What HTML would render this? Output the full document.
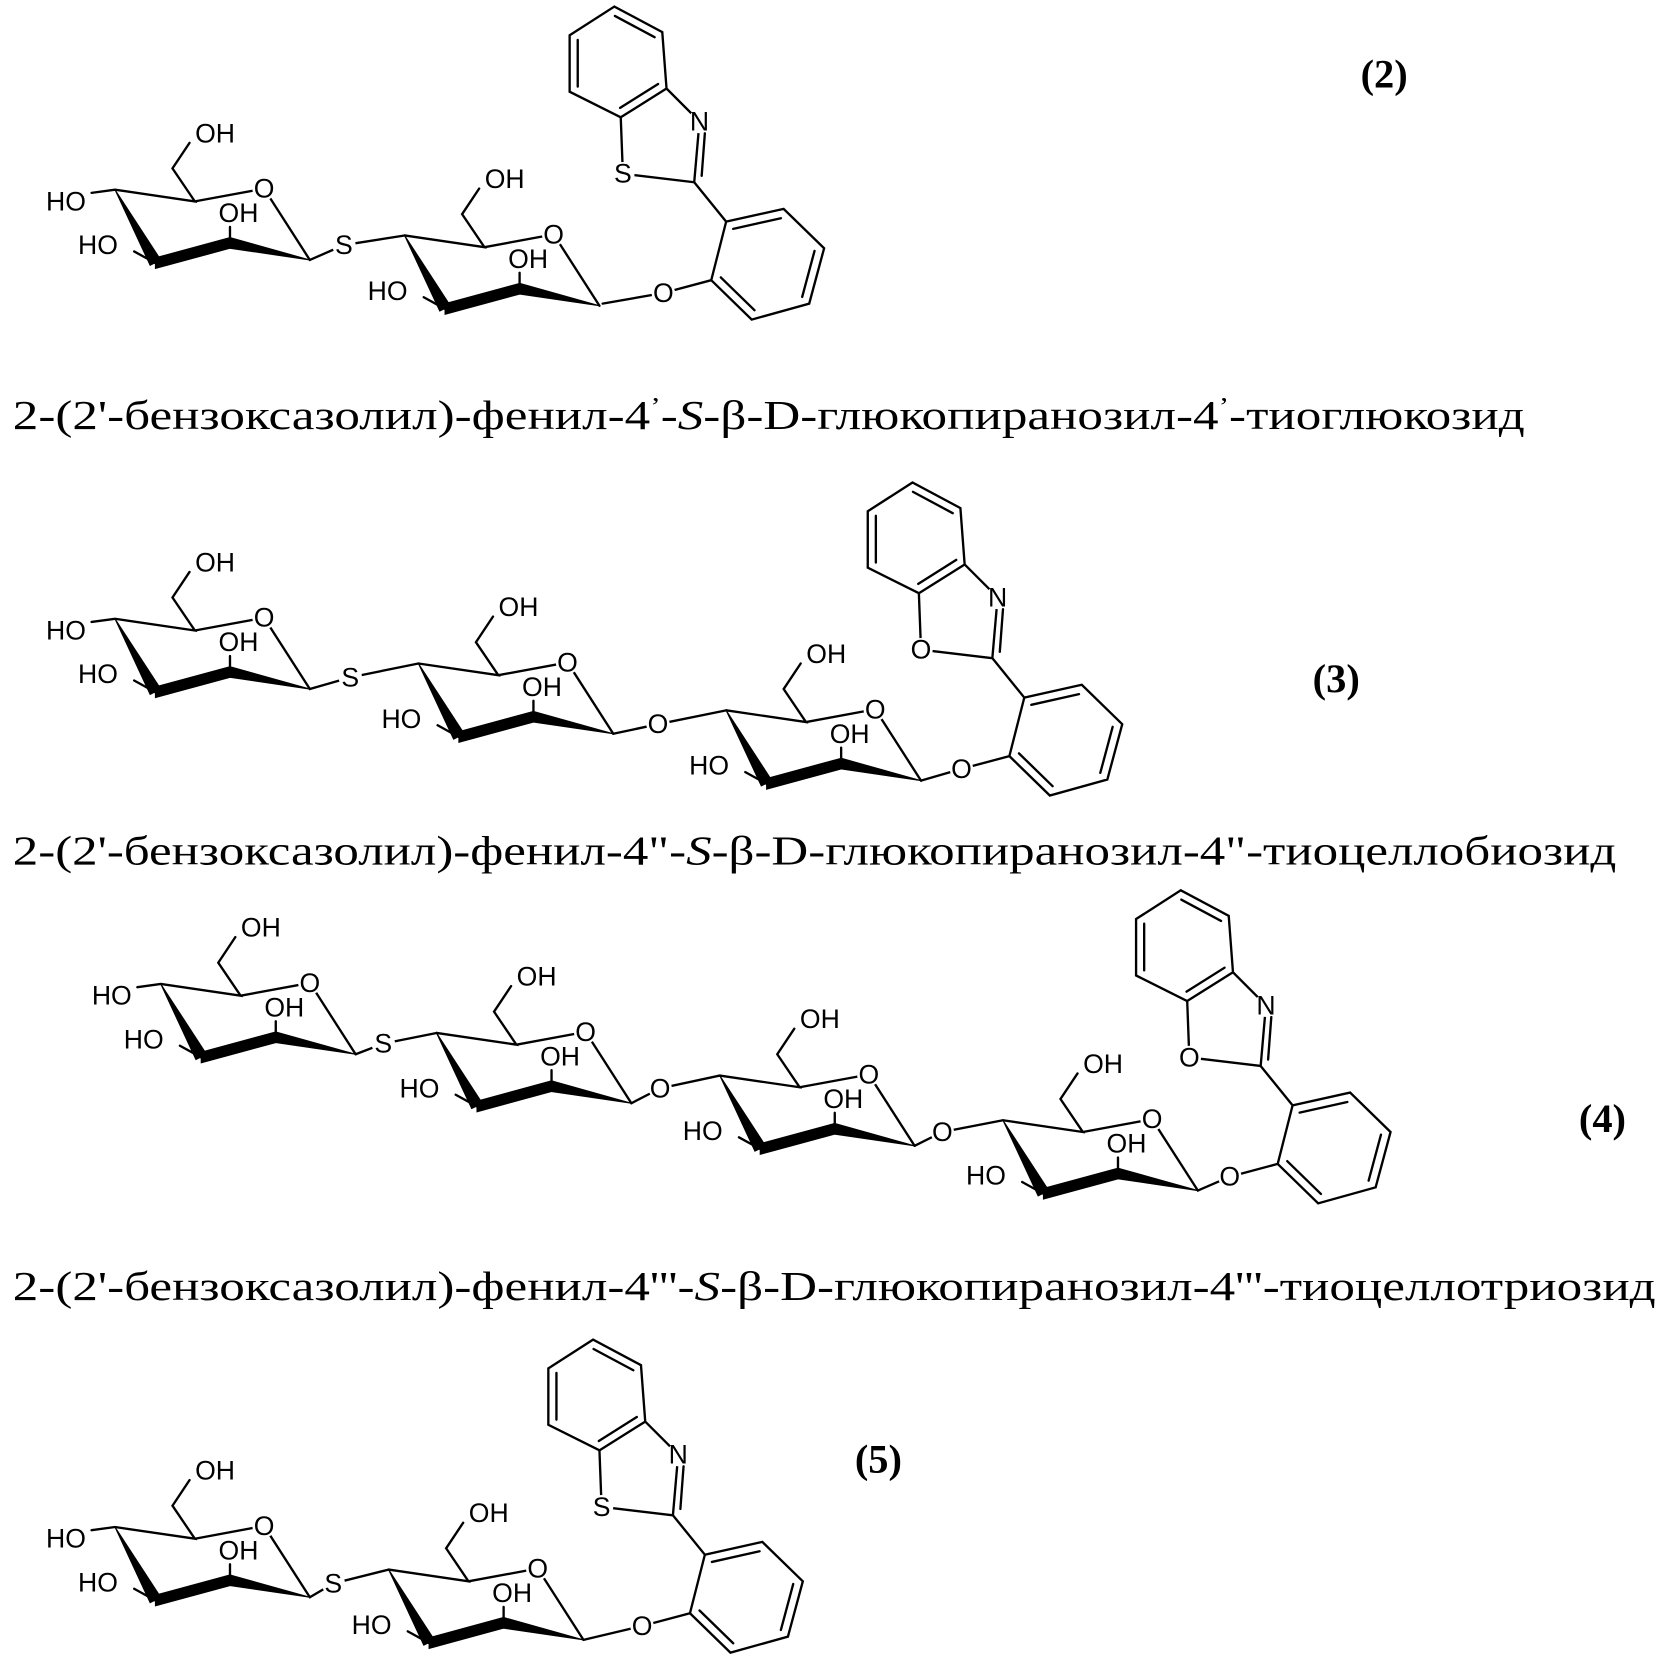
<!DOCTYPE html>
<html><head><meta charset="utf-8"><style>
html,body{margin:0;padding:0;background:#fff;}
svg{display:block;}
.b line,.b path{stroke:#000;stroke-width:2.2;fill:none;stroke-linecap:round;}
.b polygon{fill:#000;stroke:#000;stroke-width:1;}
.b circle{fill:#fff;stroke:none;}
.a{font-family:"Liberation Sans",Arial,sans-serif;font-size:25px;text-anchor:middle;dominant-baseline:central;fill:#000;stroke:none;}
.c{font-family:"Liberation Serif","Noto Serif CJK SC",serif;font-size:39px;fill:#000;}
.n{font-family:"Liberation Serif",serif;font-size:38px;font-weight:bold;text-anchor:middle;fill:#000;}
</style></head><body>
<svg width="1661" height="1656" viewBox="0 0 1560 1555" xmlns="http://www.w3.org/2000/svg">
<g class="b">
<!-- ===== Molecule 2 ===== -->
<g transform="translate(108,178)">
<path d="M-22 3L0 0L75 11L54 -20L70 -44 M75 11L140 -1L183 66 M108 50L108 35 M38 69L18 58"/>
<polygon points="183,66 108,45 108,55"/><polygon points="108,45 108,55 38,74 38,64"/><polygon points="0,0 33,71 43,66"/>
<circle cx="140" cy="-1" r="11"/>
<text class="a" x="-46" y="11">HO</text><text class="a" x="94" y="-53">OH</text><text class="a" x="140" y="-1">O</text><text class="a" x="116" y="22">OH</text><text class="a" x="-16" y="52">HO</text>
</g>
<path d="M291 244L323 230L380 221"/><circle cx="323" cy="230" r="11"/><text class="a" x="323" y="230">S</text>
<g transform="translate(380,221)">
<path d="M0 0L75 11L54 -20L70 -44 M75 11L140 -1L183 66 M108 50L108 35 M38 69L18 58"/>
<polygon points="183,66 108,45 108,55"/><polygon points="108,45 108,55 38,74 38,64"/><polygon points="0,0 33,71 43,66"/>
<circle cx="140" cy="-1" r="11"/>
<text class="a" x="94" y="-53">OH</text><text class="a" x="140" y="-1">O</text><text class="a" x="116" y="22">OH</text><text class="a" x="-16" y="52">HO</text>
</g>
<g transform="translate(623,275)">
<path d="M-57 10L0 0L45 -12 M45 -12L59 -67L113 -79L151 -42L137 10L83 25Z M65.6 -60.2L110.4 -70.2 M142 -39.5L130.4 3.7 M85.6 16.2L54 -14.6 M59 -67L29 -104L33 -150 M36 -110L39 -150 M34 -161L3 -192L-40 -165L-38 -112L29 -104 M3 -192L-1 -245L-46 -269L-88 -242L-88 -189L-40 -165 M-80.4 -193.8L-80.4 -237.7 M-45.5 -260.2L-8.2 -240.2 M-4.9 -196.3L-40.6 -173.8"/>
<circle cx="0" cy="0" r="11"/><circle cx="34" cy="-161" r="11"/><circle cx="-38" cy="-112" r="11"/>
<text class="a" x="0" y="0">O</text><text class="a" x="34" y="-161">N</text><text class="a" x="-38" y="-112">S</text>
</g>
<!-- ===== Molecule 3 ===== -->
<g transform="translate(108,581)">
<path d="M-22 3L0 0L75 11L54 -20L70 -44 M75 11L140 -1L183 66 M108 50L108 35 M38 69L18 58"/>
<polygon points="183,66 108,45 108,55"/><polygon points="108,45 108,55 38,74 38,64"/><polygon points="0,0 33,71 43,66"/>
<circle cx="140" cy="-1" r="11"/>
<text class="a" x="-46" y="11">HO</text><text class="a" x="94" y="-53">OH</text><text class="a" x="140" y="-1">O</text><text class="a" x="116" y="22">OH</text><text class="a" x="-16" y="52">HO</text>
</g>
<path d="M291 647L329 636L393 623"/><circle cx="329" cy="636" r="11"/><text class="a" x="329" y="636">S</text>
<g transform="translate(393,623)">
<path d="M0 0L75 11L54 -20L70 -44 M75 11L140 -1L183 66 M108 50L108 35 M38 69L18 58"/>
<polygon points="183,66 108,45 108,55"/><polygon points="108,45 108,55 38,74 38,64"/><polygon points="0,0 33,71 43,66"/>
<circle cx="140" cy="-1" r="11"/>
<text class="a" x="94" y="-53">OH</text><text class="a" x="140" y="-1">O</text><text class="a" x="116" y="22">OH</text><text class="a" x="-16" y="52">HO</text>
</g>
<path d="M576 689L618 680L682 667"/><circle cx="618" cy="680" r="11"/><text class="a" x="618" y="680">O</text>
<g transform="translate(682,667)">
<path d="M0 0L75 11L54 -20L70 -44 M75 11L140 -1L183 66 M108 50L108 35 M38 69L18 58"/>
<polygon points="183,66 108,45 108,55"/><polygon points="108,45 108,55 38,74 38,64"/><polygon points="0,0 33,71 43,66"/>
<circle cx="140" cy="-1" r="11"/>
<text class="a" x="94" y="-53">OH</text><text class="a" x="140" y="-1">O</text><text class="a" x="116" y="22">OH</text><text class="a" x="-16" y="52">HO</text>
</g>
<g transform="translate(903,722)">
<path d="M-38 11L0 0L45 -12 M45 -12L59 -67L113 -79L151 -42L137 10L83 25Z M65.6 -60.2L110.4 -70.2 M142 -39.5L130.4 3.7 M85.6 16.2L54 -14.6 M59 -67L29 -104L33 -150 M36 -110L39 -150 M34 -161L3 -192L-40 -165L-38 -112L29 -104 M3 -192L-1 -245L-46 -269L-88 -242L-88 -189L-40 -165 M-80.4 -193.8L-80.4 -237.7 M-45.5 -260.2L-8.2 -240.2 M-4.9 -196.3L-40.6 -173.8"/>
<circle cx="0" cy="0" r="11"/><circle cx="34" cy="-161" r="11"/><circle cx="-38" cy="-112" r="11"/>
<text class="a" x="0" y="0">O</text><text class="a" x="34" y="-161">N</text><text class="a" x="-38" y="-112">O</text>
</g>
<!-- ===== Molecule 4 ===== -->
<g transform="translate(151,924)">
<path d="M-22 3L0 0L75 11L54 -20L70 -44 M75 11L140 -1L183 66 M108 50L108 35 M38 69L18 58"/>
<polygon points="183,66 108,45 108,55"/><polygon points="108,45 108,55 38,74 38,64"/><polygon points="0,0 33,71 43,66"/>
<circle cx="140" cy="-1" r="11"/>
<text class="a" x="-46" y="11">HO</text><text class="a" x="94" y="-53">OH</text><text class="a" x="140" y="-1">O</text><text class="a" x="116" y="22">OH</text><text class="a" x="-16" y="52">HO</text>
</g>
<path d="M334 990L360 980L410 970"/><circle cx="360" cy="980" r="11"/><text class="a" x="360" y="980">S</text>
<g transform="translate(410,970)">
<path d="M0 0L75 11L54 -20L70 -44 M75 11L140 -1L183 66 M108 50L108 35 M38 69L18 58"/>
<polygon points="183,66 108,45 108,55"/><polygon points="108,45 108,55 38,74 38,64"/><polygon points="0,0 33,71 43,66"/>
<circle cx="140" cy="-1" r="11"/>
<text class="a" x="94" y="-53">OH</text><text class="a" x="140" y="-1">O</text><text class="a" x="116" y="22">OH</text><text class="a" x="-16" y="52">HO</text>
</g>
<path d="M593 1036L620 1022L676 1010"/><circle cx="620" cy="1022" r="11"/><text class="a" x="620" y="1022">O</text>
<g transform="translate(676,1010)">
<path d="M0 0L75 11L54 -20L70 -44 M75 11L140 -1L183 66 M108 50L108 35 M38 69L18 58"/>
<polygon points="183,66 108,45 108,55"/><polygon points="108,45 108,55 38,74 38,64"/><polygon points="0,0 33,71 43,66"/>
<circle cx="140" cy="-1" r="11"/>
<text class="a" x="94" y="-53">OH</text><text class="a" x="140" y="-1">O</text><text class="a" x="116" y="22">OH</text><text class="a" x="-16" y="52">HO</text>
</g>
<path d="M859 1076L885 1063L942 1052"/><circle cx="885" cy="1063" r="11"/><text class="a" x="885" y="1063">O</text>
<g transform="translate(942,1052)">
<path d="M0 0L75 11L54 -20L70 -44 M75 11L140 -1L183 66 M108 50L108 35 M38 69L18 58"/>
<polygon points="183,66 108,45 108,55"/><polygon points="108,45 108,55 38,74 38,64"/><polygon points="0,0 33,71 43,66"/>
<circle cx="140" cy="-1" r="11"/>
<text class="a" x="94" y="-53">OH</text><text class="a" x="140" y="-1">O</text><text class="a" x="116" y="22">OH</text><text class="a" x="-16" y="52">HO</text>
</g>
<g transform="translate(1155,1105)">
<path d="M-30 13L0 0L45 -12 M45 -12L59 -67L113 -79L151 -42L137 10L83 25Z M65.6 -60.2L110.4 -70.2 M142 -39.5L130.4 3.7 M85.6 16.2L54 -14.6 M59 -67L29 -104L33 -150 M36 -110L39 -150 M34 -161L3 -192L-40 -165L-38 -112L29 -104 M3 -192L-1 -245L-46 -269L-88 -242L-88 -189L-40 -165 M-80.4 -193.8L-80.4 -237.7 M-45.5 -260.2L-8.2 -240.2 M-4.9 -196.3L-40.6 -173.8"/>
<circle cx="0" cy="0" r="11"/><circle cx="34" cy="-161" r="11"/><circle cx="-38" cy="-112" r="11"/>
<text class="a" x="0" y="0">O</text><text class="a" x="34" y="-161">N</text><text class="a" x="-38" y="-112">O</text>
</g>
<!-- ===== Molecule 5 ===== -->
<g transform="translate(108,1434)">
<path d="M-22 3L0 0L75 11L54 -20L70 -44 M75 11L140 -1L183 66 M108 50L108 35 M38 69L18 58"/>
<polygon points="183,66 108,45 108,55"/><polygon points="108,45 108,55 38,74 38,64"/><polygon points="0,0 33,71 43,66"/>
<circle cx="140" cy="-1" r="11"/>
<text class="a" x="-46" y="11">HO</text><text class="a" x="94" y="-53">OH</text><text class="a" x="140" y="-1">O</text><text class="a" x="116" y="22">OH</text><text class="a" x="-16" y="52">HO</text>
</g>
<path d="M291 1500L313 1487L365 1474"/><circle cx="313" cy="1487" r="11"/><text class="a" x="313" y="1487">S</text>
<g transform="translate(365,1474)">
<path d="M0 0L75 11L54 -20L70 -44 M75 11L140 -1L183 66 M108 50L108 35 M38 69L18 58"/>
<polygon points="183,66 108,45 108,55"/><polygon points="108,45 108,55 38,74 38,64"/><polygon points="0,0 33,71 43,66"/>
<circle cx="140" cy="-1" r="11"/>
<text class="a" x="94" y="-53">OH</text><text class="a" x="140" y="-1">O</text><text class="a" x="116" y="22">OH</text><text class="a" x="-16" y="52">HO</text>
</g>
<g transform="translate(603,1527)">
<path d="M-55 13L0 0L45 -12 M45 -12L59 -67L113 -79L151 -42L137 10L83 25Z M65.6 -60.2L110.4 -70.2 M142 -39.5L130.4 3.7 M85.6 16.2L54 -14.6 M59 -67L29 -104L33 -150 M36 -110L39 -150 M34 -161L3 -192L-40 -165L-38 -112L29 -104 M3 -192L-1 -245L-46 -269L-88 -242L-88 -189L-40 -165 M-80.4 -193.8L-80.4 -237.7 M-45.5 -260.2L-8.2 -240.2 M-4.9 -196.3L-40.6 -173.8"/>
<circle cx="0" cy="0" r="11"/><circle cx="34" cy="-161" r="11"/><circle cx="-38" cy="-112" r="11"/>
<text class="a" x="0" y="0">O</text><text class="a" x="34" y="-161">N</text><text class="a" x="-38" y="-112">S</text>
</g>
</g>
<!-- labels -->
<text class="n" x="1300" y="82">(2)</text>
<text class="n" x="1255" y="650">(3)</text>
<text class="n" x="1505" y="1063">(4)</text>
<text class="n" x="825" y="1383">(5)</text>
<!-- captions -->
<text class="c" x="12" y="403" textLength="1420" lengthAdjust="spacingAndGlyphs">2-(2'-бензоксазолил)-фенил-4<tspan dy="-14" font-size="24">’</tspan><tspan dy="14">-</tspan><tspan font-style="italic">S</tspan>-β-D-глюкопиранозил-4<tspan dy="-14" font-size="24">’</tspan><tspan dy="14">-тиоглюкозид</tspan></text>
<text class="c" x="12" y="812" textLength="1506" lengthAdjust="spacingAndGlyphs">2-(2'-бензоксазолил)-фенил-4"-<tspan font-style="italic">S</tspan>-β-D-глюкопиранозил-4"-тиоцеллобиозид</text>
<text class="c" x="12" y="1221" textLength="1543" lengthAdjust="spacingAndGlyphs">2-(2'-бензоксазолил)-фенил-4'''-<tspan font-style="italic">S</tspan>-β-D-глюкопиранозил-4'''-тиоцеллотриозид</text>
</svg>
</body></html>
